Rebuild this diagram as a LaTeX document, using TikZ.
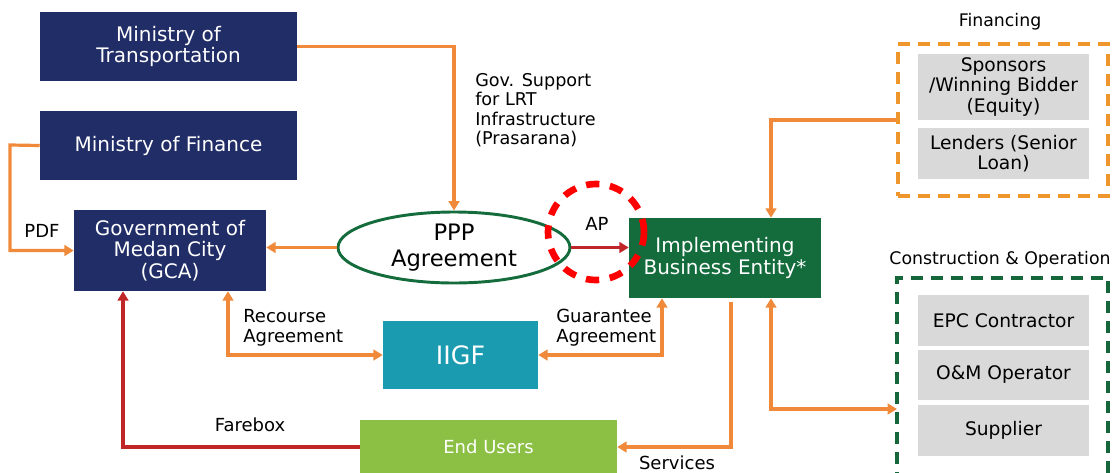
\documentclass[tikz,border=0pt]{standalone}
\usepackage{fontspec}
\setmainfont{DejaVu Sans}
\usepackage{tikz}
\usetikzlibrary{arrows.meta,shapes.geometric}

\definecolor{navyc}{RGB}{33,45,102}
\definecolor{ibec}{RGB}{20,108,60}
\definecolor{tealc}{RGB}{26,155,176}
\definecolor{limec}{RGB}{139,192,68}
\definecolor{flowc}{RGB}{240,138,58}
\definecolor{redflow}{RGB}{192,38,40}
\definecolor{dashorange}{RGB}{238,150,44}
\definecolor{dashgreen}{RGB}{22,102,60}
\definecolor{greyc}{RGB}{217,217,217}

\begin{document}
\begin{tikzpicture}[x=0.75pt,y=-0.75pt,
    >={Triangle[length=7pt,width=8pt]},
    box/.style={rectangle,align=center,text=white,font=\fontsize{15}{16}\selectfont,inner sep=2pt},
    navy/.style={box,fill=navyc,minimum width=192.75pt},
    sub/.style={rectangle,fill=greyc,align=center,font=\fontsize{14}{15.5}\selectfont,minimum width=128.25pt,minimum height=38.25pt,inner sep=1pt},
    lbl/.style={align=left,font=\fontsize{13.5}{15}\selectfont,inner sep=0pt},
    flow/.style={draw=flowc,line width=2.4pt},
    redline/.style={draw=redflow,line width=2.4pt}]
  \clip (0,0) rectangle (1114,472);
  \useasboundingbox (0,0) rectangle (1114,472);
  % government side
  \node[navy,minimum height=51.75pt] (mot) at (168.5,46.5) {Ministry of\\Transportation};
  \node[navy,minimum height=51.75pt] (mof) at (168.5,145.5) {Ministry of Finance};
  \node[box,fill=navyc,minimum width=144pt,minimum height=60.75pt] (gca) at (170,250.5) {Government of\\Medan City\\(GCA)};
  \node[ellipse,draw=ibec,line width=2.2pt,minimum width=174pt,minimum height=53.25pt,inner sep=0pt,align=center,font=\fontsize{17}{19}\selectfont] (ppp) at (454,247.5) {PPP\\Agreement};
  \node[box,fill=ibec,minimum width=144pt,minimum height=60pt] (ibe) at (725,258) {Implementing\\Business Entity*};
  \node[box,fill=tealc,minimum width=116.25pt,minimum height=51pt,font=\fontsize{19}{21}\selectfont] (iigf) at (460.5,355) {IIGF};
  \node[box,fill=limec,minimum width=192.75pt,minimum height=40.5pt,font=\fontsize{13.5}{15}\selectfont] (eu) at (488.5,447) {End Users};
  % financing and contractors
  \node[rectangle,draw=dashorange,line width=2.6pt,dash pattern=on 9pt off 6pt,minimum width=157.5pt,minimum height=114pt] (fin) at (1003,120) {};
  \node[sub,minimum height=49.5pt] (spons) at (1003.5,87) {Sponsors\\/Winning Bidder\\(Equity)};
  \node[sub] (lend) at (1003.5,153.5) {Lenders (Senior\\Loan)};
  \node[lbl,font=\fontsize{13}{15}\selectfont] (finl) at (1000,22) {Financing};
  \node[rectangle,draw=dashgreen,line width=2.6pt,dash pattern=on 9pt off 6pt,minimum width=158.25pt,minimum height=153pt] (con) at (1002.5,380) {};
  \node[sub] (epc) at (1003.5,320.5) {EPC Contractor};
  \node[sub,minimum height=37.5pt] (om) at (1003.5,375) {O\&M Operator};
  \node[sub] (supp) at (1003.5,430) {Supplier};
  \node[lbl,font=\fontsize{13}{15}\selectfont] (conl) at (1000,260) {Construction \& Operation};
  \coordinate (pdfc) at (10,145);
  \coordinate (conin) at (897,409);
  % labels
  \node[lbl,font=\fontsize{13.2}{14.5}\selectfont,anchor=west] (gov) at (475,110) {Gov. Support\\for LRT\\Infrastructure\\(Prasarana)};
  \node[lbl] (pdf) at (42,231) {PDF};
  \node[lbl] (ap) at (597,224) {AP};
  \node[lbl,anchor=west] (rec) at (243,328) {Recourse\\Agreement};
  \node[lbl,anchor=west] (gua) at (556,328) {Guarantee\\Agreement};
  \node[lbl] (fare) at (250,425) {Farebox};
  \node[lbl] (serv) at (677,463) {Services};
  \node[circle,draw=red,line width=5pt,dash pattern=on 10pt off 8pt,minimum size=72pt] (hl) at (596,232) {};
  % connectors
  \draw[flow,->] (mot.east) -| (ppp.north);
  \draw[flow,->] (mof.west) -- (pdfc) |- (gca.west);
  \draw[flow,->] (ppp.west) -- (ppp.west -| gca.east);
  \draw[redline,->] (ppp.east) -- (ppp.east -| ibe.west);
  \draw[flow,<->] ([xshift=43.5pt]gca.south) |- (iigf.west);
  \draw[flow,<->] (iigf.east) -| ([xshift=-47.25pt]ibe.south);
  \draw[redline,->] (eu.west) -| ([xshift=-35.25pt]gca.south);
  \draw[flow,->] ([xshift=4.5pt,yshift=-3pt]ibe.south) |- (eu.east);
  \draw[flow,<->] ([xshift=34.5pt]ibe.south) |- (conin);
  \draw[flow,->] (fin.west) -| ([xshift=34.5pt]ibe.north);
\end{tikzpicture}
\end{document}
